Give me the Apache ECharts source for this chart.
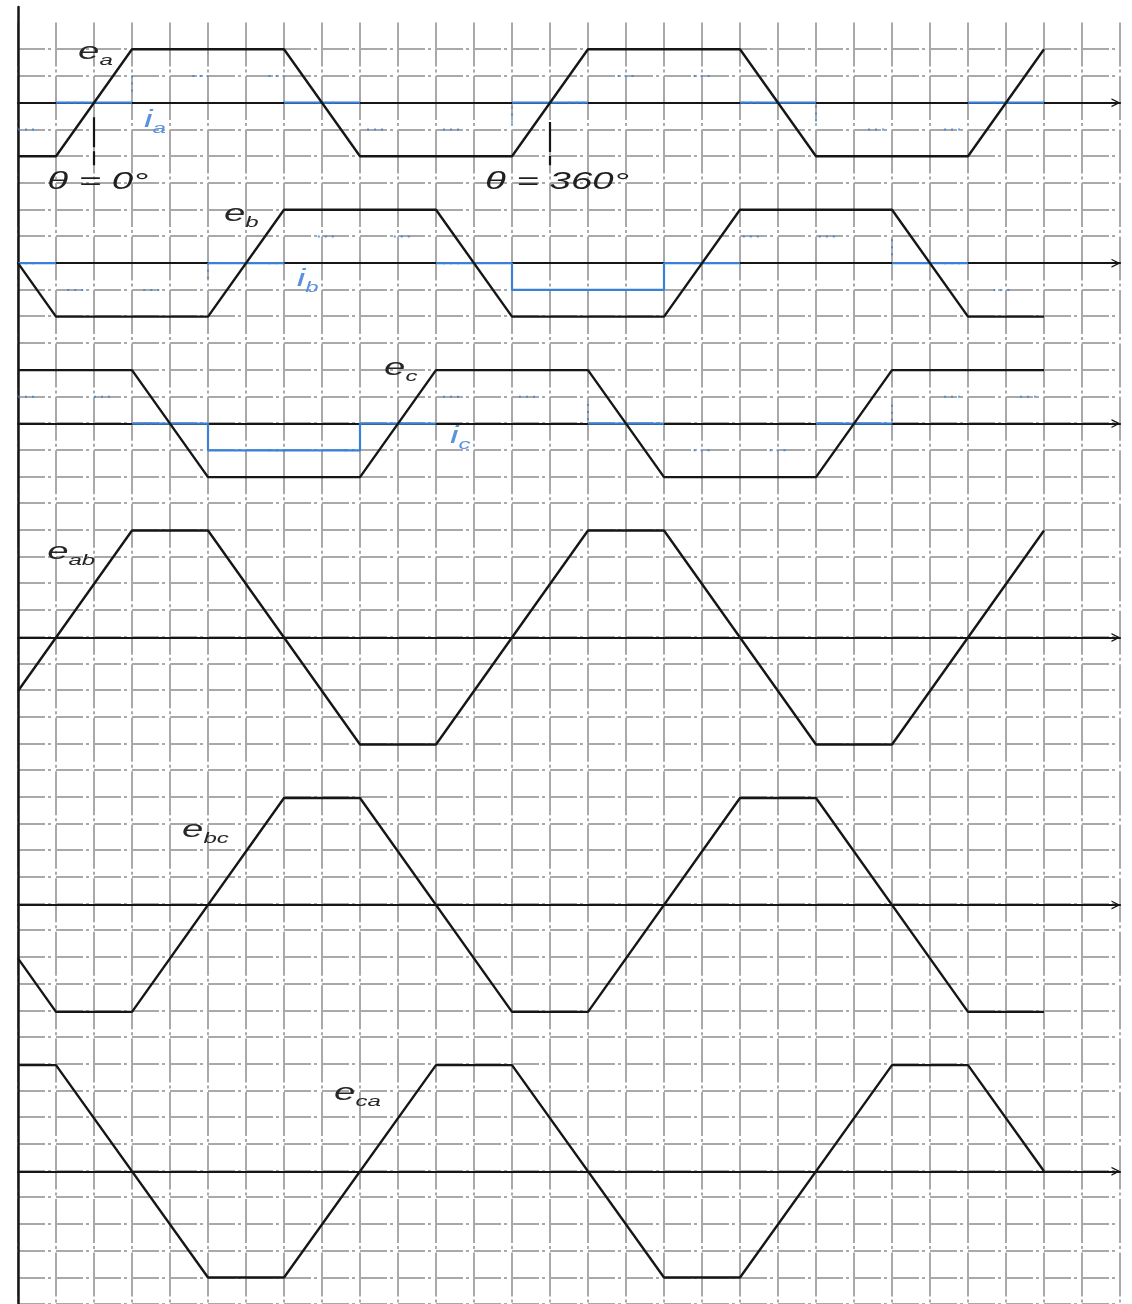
<!DOCTYPE html>
<html>
<head>
<meta charset="utf-8">
<script src="https://cdn.jsdelivr.net/npm/echarts@6/dist/echarts.min.js"></script>
<style>
  html, body { margin: 0; padding: 0; background: #ffffff; }
  #chart { width: 1132px; height: 1304px; }
</style>
</head>
<body>
<div id="chart"></div>
<script>
// Electrical angle in degrees; EMF in units of the phase peak E, current in units of E scale.
const eA = [[-60, -1], [-30, -1], [30, 1], [150, 1], [210, -1], [330, -1], [390, 1], [510, 1], [570, -1], [690, -1], [750, 1]];
const eB = [[-60, 0], [-30, -1], [90, -1], [150, 1], [270, 1], [330, -1], [450, -1], [510, 1], [630, 1], [690, -1], [750, -1]];
const eC = [[-60, 1], [30, 1], [90, -1], [210, -1], [270, 1], [390, 1], [450, -1], [570, -1], [630, 1], [750, 1]];

// Phase currents: [from, to, level]
const iA = [[-60, -30, -0.5], [-30, 30, 0], [30, 150, 0.5], [150, 210, 0], [210, 330, -0.5], [330, 390, 0], [390, 510, 0.5], [510, 570, 0], [570, 690, -0.5], [690, 750, 0]];
const iB = [[-60, -30, 0], [-30, 90, -0.5], [90, 150, 0], [150, 270, 0.5], [270, 330, 0], [330, 450, -0.5], [450, 510, 0], [510, 630, 0.5], [630, 690, 0], [690, 750, -0.5]];
const iC = [[-60, 30, 0.5], [30, 90, 0], [90, 210, -0.5], [210, 270, 0], [270, 390, 0.5], [390, 450, 0], [450, 570, -0.5], [570, 630, 0], [630, 750, 0.5]];

// Line-to-line EMFs
const eAB = [[-60, -1], [30, 2], [90, 2], [210, -2], [270, -2], [390, 2], [450, 2], [570, -2], [630, -2], [750, 2]];
const eBC = [[-60, -1], [-30, -2], [30, -2], [150, 2], [210, 2], [330, -2], [390, -2], [510, 2], [570, 2], [690, -2], [750, -2]];
const eCA = [[-60, 2], [-30, 2], [90, -2], [150, -2], [270, 2], [330, 2], [450, -2], [510, -2], [630, 2], [690, 2], [750, 0]];

// Angle axis
const thetaMin = -60, thetaMax = 810, thetaStep = 30;

// ---- layout & styling ----
const INK = '#161616';
const BLUE = '#3a80d8';
const GRID_GRAY = '#a9a9a9';
const LEFT = 18, PLOT_W = 1102;
const TOP = 22.5, CELL = 26.74, ROWS = 48;

// zero-line row and half-height (in grid rows) of every waveform strip
const strips = [
  { row: 3,  half: 3 },
  { row: 9,  half: 3 },
  { row: 15, half: 3 },
  { row: 23, half: 5 },
  { row: 33, half: 5 },
  { row: 43, half: 5 }
];
// conduction blocks drawn as solid blue
const solidBlocks = { b: [[330, 450]], c: [[90, 210]] };

const chevron = 'path://M0,10 L5,0 L10,10 L8.4,10 L5,3.2 L1.6,10 Z';

const grids = [], xAxes = [], yAxes = [], series = [];

// background grid paper
grids.push({ left: LEFT, top: TOP, width: PLOT_W, height: ROWS * CELL });
xAxes.push({
  gridIndex: 0, type: 'value', min: thetaMin, max: thetaMax, interval: thetaStep,
  axisLine: { show: false }, axisTick: { show: false }, axisLabel: { show: false },
  splitLine: { show: true, lineStyle: { color: GRID_GRAY, width: 2, type: [44, 3, 3, 3.48] } }
});
yAxes.push({
  gridIndex: 0, type: 'value', min: 0, max: ROWS, interval: 1, inverse: true,
  axisLine: { show: false }, axisTick: { show: false }, axisLabel: { show: false },
  splitLine: { show: true, showMinLine: false, lineStyle: { color: GRID_GRAY, width: 2, type: [27, 3, 3, 5] } }
});

// waveform strips
strips.forEach((s, k) => {
  const idx = k + 1;
  grids.push({ left: LEFT, top: TOP + (s.row - s.half) * CELL, width: PLOT_W, height: 2 * s.half * CELL });
  xAxes.push({
    gridIndex: idx, type: 'value', min: thetaMin, max: thetaMax, interval: thetaStep,
    axisLine: {
      show: true, onZero: true, symbol: ['none', chevron], symbolSize: [10, 9], symbolOffset: [0, -4],
      lineStyle: { color: INK, width: 2.2 }
    },
    axisTick: { show: false }, axisLabel: { show: false }, splitLine: { show: false }
  });
  yAxes.push({
    gridIndex: idx, type: 'value', min: -s.half / 2, max: s.half / 2,
    axisLine: { show: false, onZero: false }, axisTick: { show: false }, axisLabel: { show: false }, splitLine: { show: false }
  });
});

// left spine
grids.push({ left: LEFT, top: 7, width: 1, height: 1300 });
xAxes.push({ gridIndex: 7, type: 'value', show: false, min: 0, max: 1 });
yAxes.push({
  gridIndex: 7, type: 'value', min: 0, max: 1, position: 'left',
  axisLine: { show: true, lineStyle: { color: INK, width: 2.5 } },
  axisTick: { show: false }, axisLabel: { show: false }, splitLine: { show: false }
});

function emfSeries(name, data, idx, extra) {
  return Object.assign({
    name, type: 'line', xAxisIndex: idx, yAxisIndex: idx, data,
    showSymbol: false, symbol: 'none', silent: true, z: 5,
    lineStyle: { color: INK, width: 2.4 }
  }, extra || {});
}

function stepPoints(blocks) {
  const pts = [];
  blocks.forEach(([a, b, v]) => { pts.push([a, v], [b, v]); });
  return pts;
}
function solidPoints(blocks, extraSolid) {
  const pts = [];
  let last = null;
  blocks.forEach(([a, b, v]) => {
    const keep = v === 0 || (extraSolid || []).some(([p, q]) => p === a && q === b);
    if (keep) {
      if (last !== null && last !== a) pts.push([a, null]);
      pts.push([a, v], [b, v]);
      last = b;
    }
  });
  return pts;
}
function currentSeries(name, blocks, idx, extraSolid) {
  return [
    {
      name: name + ' trace', type: 'line', xAxisIndex: idx, yAxisIndex: idx, data: stepPoints(blocks),
      showSymbol: false, symbol: 'none', silent: true, z: 3,
      lineStyle: { color: BLUE, width: 2, type: [2, 5, 2, 5, 2, 60], opacity: 0.8 }
    },
    {
      name, type: 'line', xAxisIndex: idx, yAxisIndex: idx, data: solidPoints(blocks, extraSolid),
      showSymbol: false, symbol: 'none', silent: true, z: 4, connectNulls: false,
      lineStyle: { color: BLUE, width: 2.2 }
    }
  ];
}

const thetaMarks = {
  silent: true, symbol: ['none', 'none'], label: { show: false },
  lineStyle: { color: INK, width: 2.2, type: [30, 4] },
  data: [
    [{ coord: [0, -0.27] }, { coord: [0, -1.17] }],
    [{ coord: [360, -0.36] }, { coord: [360, -1.17] }]
  ]
};

series.push(...currentSeries('ia', iA, 1));
series.push(...currentSeries('ib', iB, 2, solidBlocks.b));
series.push(...currentSeries('ic', iC, 3, solidBlocks.c));
series.push(emfSeries('ea', eA, 1, { markLine: thetaMarks }));
series.push(emfSeries('eb', eB, 2));
series.push(emfSeries('ec', eC, 3));
series.push(emfSeries('eab', eAB, 4));
series.push(emfSeries('ebc', eBC, 5));
series.push(emfSeries('eca', eCA, 6));

const chart = echarts.init(document.getElementById('chart'), null, { renderer: 'canvas' });
chart.setOption({
  animation: false,
  backgroundColor: '#ffffff',
  grid: grids, xAxis: xAxes, yAxis: yAxes, series
});

// Symbol labels, anchored in each strip's own coordinates
const labelDefs = [
  { strip: 0, at: [-12.6, 0.93], main: 'e', sub: 'a', color: '#262626' },
  { strip: 0, at: [39.5, -0.34], main: 'i', sub: 'a', color: '#5a92de' },
  { strip: 0, at: [-37, -1.49], plain: 'θ = 0°', color: '#1f1f1f' },
  { strip: 0, at: [308.7, -1.49], plain: 'θ = 360°', color: '#1f1f1f' },
  { strip: 1, at: [102.6, 0.89], main: 'e', sub: 'b', color: '#262626' },
  { strip: 1, at: [160, -0.32], main: 'i', sub: 'b', color: '#5a92de' },
  { strip: 2, at: [229, 1.02], main: 'e', sub: 'c', color: '#262626' },
  { strip: 2, at: [281, -0.25], main: 'i', sub: 'c', color: '#5a92de' },
  { strip: 3, at: [-37, 1.57], main: 'e', sub: 'ab', color: '#262626' },
  { strip: 4, at: [69.5, 1.37], main: 'e', sub: 'bc', color: '#262626' },
  { strip: 5, at: [189.5, 1.45], main: 'e', sub: 'ca', color: '#262626' }
];
const FONT = '"Liberation Sans", Arial, sans-serif';
const graphics = labelDefs.map(d => {
  const p = chart.convertToPixel({ gridIndex: d.strip + 1 }, d.at);
  const style = d.plain
    ? { text: d.plain, fill: d.color, font: 'italic 24px ' + FONT, verticalAlign: 'middle', align: 'left' }
    : {
        text: '{m|' + d.main + '}{s|' + d.sub + '}', verticalAlign: 'middle', align: 'left',
        rich: {
          m: { fill: d.color, fontSize: 24, fontStyle: 'italic', fontFamily: FONT, verticalAlign: 'bottom', lineHeight: 30, padding: [0, 0, 4, 0] },
          s: { fill: d.color, fontSize: 15, fontStyle: 'italic', fontFamily: FONT, verticalAlign: 'bottom', lineHeight: 30 }
        }
      };
  return { type: 'text', x: p[0], y: p[1], scaleX: 1.6, silent: true, z: 10, style };
});
chart.setOption({ graphic: graphics });
</script>
</body>
</html>
